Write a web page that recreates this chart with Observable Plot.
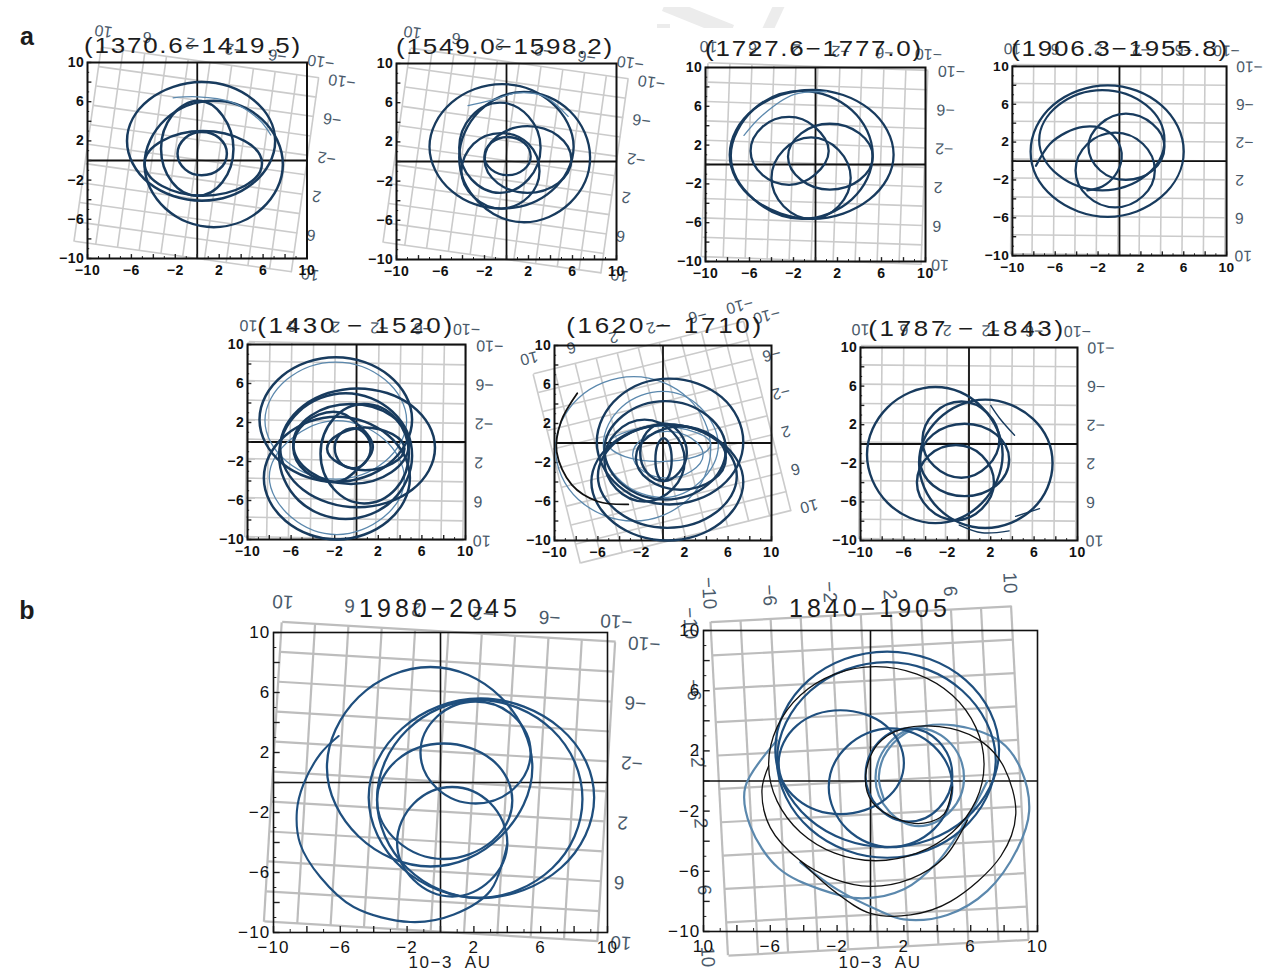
<!DOCTYPE html>
<html><head><meta charset="utf-8">
<script src="https://cdn.jsdelivr.net/npm/d3@7"></script>
<script src="https://cdn.jsdelivr.net/npm/@observablehq/plot@0.6"></script>
<style>
html,body{margin:0;background:#fff;}
#page{position:relative;width:1275px;height:973px;overflow:hidden;background:#fff;font-family:"Liberation Sans",Arial,sans-serif;}
#page>div.p{position:absolute;}
#page svg{background:transparent;overflow:visible;display:block;}
.t{position:absolute;transform:translate(-50%,-50%);white-space:pre;color:#1c1c1c;}
#wm{position:absolute;left:640px;top:7px;width:180px;height:21px;overflow:hidden;}
#wm div{position:absolute;background:#ececec;}
</style></head><body><div id="page"><div id="wm">
<div style="left:22px;top:4px;width:72px;height:14px;transform:rotate(22deg)"></div>
<div style="left:17px;top:17px;width:13px;height:4px"></div>
<div style="left:112px;top:6px;width:42px;height:11px;transform:rotate(-65deg)"></div>
</div></div>
<script>
const labelTicks=[-10,-6,-2,2,6,10];
const majorTicks=[-10,-8,-6,-4,-2,0,2,4,6,8,10];
const minorTicks=[-9,-7,-5,-3,-1,1,3,5,7,9];

const p1Dark=[
[7.1,2,5.1,6.2,.4,8,-4.4,6.2,-6.4,2,-4.4,-2.3,.4,-4.1,5.1,-2.3],
[7.8,-.4,5.9,4.2,1.5,6.1,-2.9,4.2,-4.8,-.4,-2.9,-4.9,1.5,-6.8,5.9,-4.9],
[3.3,1.2,2.3,4.6,.1,6.1,-2.3,4.6,-3.3,1.2,-2.3,-2.2,0,-3.6,2.3,-2.2],
[5.9,-.3,4.3,2,.5,3,-3.2,2,-4.8,-.3,-3.2,-2.6,.5,-3.6,4.3,-2.6],
[2.7,.7,2,2.3,.4,2.9,-1.1,2.3,-1.8,.7,-1.1,-.9,.4,-1.5,2,-.9]];
const p1Tail=[[-2.2,6.4,0,6.5,3,6,5.6,4.2,6.7,2.6]];
const p2Dark=[
[6.1,1.5,4.1,6,-.4,7.9,-5,6,-7,1.5,-5,-3,-.4,-4.8,4.1,-3],
[7.6,.4,5.8,5.1,1.6,7.1,-2.5,5.1,-4.3,.4,-2.5,-4.2,1.6,-6.2,5.8,-4.2],
[3.1,1.4,2,4.6,-.6,6,-3.2,4.6,-4.3,1.4,-3.2,-1.8,-.6,-3.2,2,-1.8],
[5.9,.2,4.7,2.6,1.9,3.6,-.8,2.6,-2,.2,-.8,-2.2,1.9,-3.2,4.7,-2.2],
[3,-1,2,1.8,-.5,2.9,-3,1.8,-4.1,-1,-3,-3.6,-.5,-4.8,2,-3.6],
[2.2,.5,1.6,1.9,.1,2.5,-1.4,1.9,-2,.5,-1.4,-.8,.1,-1.4,1.6,-.8]];
const p2Tail=[[-3.5,5.7,-1.5,6.2,1,7,3.5,6.6,5.6,4.6]];
const p3Dark=[
[7.1,1,4.9,5.7,-.3,7.7,-5.6,5.7,-7.8,1,-5.6,-3.6,-.3,-5.6,4.9,-3.6],
[5.2,1,3.3,5.6,-1.2,7.6,-5.6,5.7,-7.7,.9,-5.6,-3.6,-1.2,-5.6,3.3,-3.6],
[1.2,1.4,-.1,3.9,-2.4,4.9,-4.8,3.9,-5.9,1.4,-4.8,-1.1,-2.4,-2.1,-.1,-1.1],
[5.2,.8,4,3.2,1.3,4.2,-1.3,3.2,-2.5,.8,-1.3,-1.6,1.3,-2.6,4,-1.6],
[3.2,-1.4,2.1,1.5,-.4,2.8,-2.9,1.5,-4,-1.4,-2.9,-4.3,-.4,-5.6,2.1,-4.3]];
const p3Tail=[[-6.5,3,-4.9,5,-2,7.2,1,7.5]];
const p4Dark=[
[6,1,3.9,5.9,-1.1,8,-6.2,5.9,-8.3,1,-6.2,-3.8,-1.1,-5.9,3.9,-3.8],
[4.2,2.2,2.5,5.9,-1.6,7.5,-5.7,5.9,-7.5,2.2,-5.7,-1.5,-1.6,-3.1,2.5,-1.5],
[3.3,-1,2.2,1.8,-.4,3,-3,1.8,-4.1,-1,-3,-3.7,-.4,-4.9,2.2,-3.7],
[4.2,1.5,3.1,3.9,.6,5,-1.8,3.9,-2.9,1.5,-1.8,-1,.6,-2,3.1,-1]];
const p4Tail=[[-7.8,-.5,-6.5,1.8,-5,3,-3.4,3.6,-1.8,3.5,-.6,2.7,.1,1.4,.2,.2,-.4,-1.5,-1.6,-2.7,-3,-3.1]];
const p5Dark=[
[5.1,2.3,3,6.8,-1.9,8.7,-6.8,6.8,-8.9,2.3,-6.8,-2.2,-1.9,-4.1,3,-2.2],
[4.9,-3.7,2.9,.7,-1.8,2.6,-6.5,.7,-8.5,-3.7,-6.5,-8.1,-1.8,-10,2.9,-8.1],
[7.2,-.6,5.1,3.7,.1,5.5,-4.9,3.7,-7,-.6,-4.9,-4.9,.1,-6.7,5.1,-4.9],
[5.1,-1.4,3.3,3.1,-1,5,-5.3,3.1,-7.1,-1.4,-5.3,-6,-1,-7.9,3.3,-6],
[4.8,-.2,3.2,2.7,-.5,3.9,-4.2,2.7,-5.8,-.2,-4.2,-3.1,-.5,-4.3,3.2,-3.1],
[1.5,-.5,-.1,2,-2.1,3.1,-4.7,2,-5.8,-.5,-4.7,-3,-2.1,-4.1,-.1,-3],
[4.8,-1.2,3.6,2.4,.7,3.9,-2.1,2.4,-3.3,-1.2,-2.1,-4.8,.7,-6.3,3.6,-4.8],
[4.4,-.7,3.3,.8,.8,1.5,-1.6,.8,-2.7,-.7,-1.6,-2.2,.8,-2.9,3.3,-2.2],
[1.3,-.6,.8,.8,-.3,1.4,-1.5,.8,-2,-.6,-1.5,-2.1,-.3,-2.7,.8,-2.1]];
const p5Light=[
[4.6,2.2,2.6,6.4,-1.9,8.2,-6.4,6.4,-8.4,2.2,-6.4,-2,-1.9,-3.8,2.6,-2],
[4.4,-3.8,2.5,.3,-1.8,2.2,-6,.3,-8,-3.6,-6,-7.7,-1.8,-9.5,2.5,-7.7]];
const p6Dark=[
[7.4,.1,5.4,4.7,.6,6.6,-4.1,4.7,-6.1,.1,-4.1,-4.4,.6,-6.3,5.4,-4.4],
[7.4,-4,5.3,.1,.4,1.9,-4.5,.1,-6.6,-4,-4.5,-8.2,.4,-10,5.3,-8.2],
[6.8,-3.4,4.9,.3,.4,1.9,-4.1,.3,-6,-3.4,-4.1,-7.1,.4,-8.7,4.9,-7.1],
[5.8,-.7,4.1,2.8,.2,4.3,-3.7,2.8,-5.4,-.7,-3.7,-4.3,.2,-5.8,4.1,-4.3],
[5.8,-1.5,4.6,.7,1.6,1.7,-1.3,.7,-2.5,-1.5,-1.3,-3.8,1.6,-4.8,4.6,-3.8],
[2,-1.8,.9,1.1,-1.7,2.4,-4.3,1.1,-5.4,-1.8,-4.3,-4.7,-1.7,-6,.9,-4.7],
[.8,-1.7,.6,-.2,.05,.5,-.5,-.2,-.7,-1.7,-.5,-3.2,.05,-3.9,.6,-3.2],
[2.2,-1,1.5,1.1,.05,2,-1.5,1.1,-2.1,-1,-1.5,-3,.05,-3.9,1.5,-3]];
const p6Light=[
[4.4,-.6,2.3,4.6,-2.7,6.8,-7.8,4.6,-9.9,-.6,-7.8,-5.8,-2.7,-8,2.3,-5.8],
[5.1,-.2,3.4,3.7,0,5.3,-3.8,3.7,-5.5,-.2,-3.8,-4,0,-5.6,3.4,-4],
[4.4,-.1,3,1.1,-.3,1.7,-3.5,1.1,-5,-.1,-3.5,-1.4,-.3,-1.9,3,-1.4],
[3.7,-1.2,2.6,.5,.4,1.2,-1.8,.5,-2.8,-1.2,-1.8,-2.9,.4,-3.6,2.6,-2.9]];
const p6Tail=[[-7.9,5.1,-9.4,2.2,-9.8,-.9,-8.4,-4.3,-6,-6,-3.2,-6.3]];
const p7Dark=[
[3.1,-1.1,1.2,3.8,-3.1,5.9,-7.5,3.8,-9.4,-1.1,-7.5,-6.1,-3.1,-8.2,1.2,-6.1],
[7.7,-2,5.9,2.6,1.5,4.6,-2.8,2.6,-4.6,-2,-2.8,-6.7,1.5,-8.7,5.9,-6.7],
[3.7,-1.6,2.5,1,-.4,2.1,-3.3,1,-4.5,-1.6,-3.3,-4.3,-.4,-5.4,2.5,-4.3],
[2.3,-4,1.2,-1.2,-1.2,-.1,-3.7,-1.2,-4.8,-4,-3.7,-6.7,-1.2,-7.9,1.2,-6.7],
[2.8,.4,1.7,3.2,-.7,4.4,-3.2,3.2,-4.3,.4,-3.2,-2.3,-.7,-3.5,1.7,-2.3]];
const p7Tail=[[2,4,2.8,2.7,4.2,.9],[-.9,-8.4,1.2,-9.2,3.7,-9],[4.3,-7.5,6.5,-6.7]];
const p8Dark=[
[9.2,-1,7.2,3.6,2.4,5.6,-2.3,3.6,-4.3,-1,-2.3,-5.7,2.4,-7.7,7.2,-5.7],
[8.5,-1.1,6.7,3.5,2.3,5.5,-2,3.5,-3.8,-1.1,-2,-5.7,2.3,-7.7,6.7,-5.7],
[5.5,1,3.6,5.7,-.6,7.7,-4.9,5.7,-6.8,1,-4.9,-3.6,-.6,-5.6,3.6,-3.6],
[5.4,2,4.4,4.4,2.1,5.4,-.2,4.4,-1.2,2,-.2,-.4,2.1,-1.4,4.4,-.4],
[4.3,-1.2,3.1,1.5,.2,2.6,-2.6,1.5,-3.8,-1.2,-2.6,-3.9,.2,-5.1,3.1,-3.9],
[4,-4,3,-1.4,.7,-.3,-1.6,-1.4,-2.6,-4,-1.6,-6.5,.7,-7.6,3,-6.5]];
const p8Tail=[[-6.1,3.1,-7.2,1.9,-8.2,-.1,-8.6,-1.9,-8.4,-4.1,-7.2,-6.3,-5.2,-8.3,-1.8,-9.3,.8,-8.8,3,-7.2,4,-4.1]];
const p9Black=[
[6.8,1.1,4.9,5.7,.3,7.6,-4.2,5.7,-6.1,1.1,-4.2,-3.4,.3,-5.3,4.9,-3.4]];
const p9BlackOpen=[
[-6.1,1,-6.5,-.6,-6,-3.1,-4.2,-5.3,-2.2,-6.5,0,-7,2.4,-6.5,4.4,-5.1,5.8,-2.6],
[-4.2,-5.3,-2.2,-7.3,0,-8.8,2.4,-8.9,4.8,-8,7.8,-5,8.7,-2.2,8,.9,6.8,2.5,4.8,3.5,2,3.5,.4,2.4,-.3,.3,.1,-1.4,1.8,-2.6,3.2,-2.8,4.4,-2.2,4.9,-.4]];
const p9Blue=[
[7.7,2.1,5.7,6.7,1,8.6,-3.7,6.7,-5.7,2.1,-3.7,-2.5,1,-4.4,5.7,-2.5],
[7.5,1.4,5.5,6,1,7.9,-3.6,6,-5.6,1.4,-3.6,-3.2,1,-5.1,5.5,-3.2],
[2,1.2,.9,3.7,-1.8,4.7,-4.4,3.7,-5.5,1.2,-4.4,-1.2,-1.8,-2.2,.9,-1.2],
[4.9,-.4,3.8,2.3,1.2,3.5,-1.4,2.3,-2.5,-.4,-1.4,-3.2,1.2,-4.4,3.8,-3.2],
[4.9,.4,4.1,2.6,2.3,3.5,.5,2.6,-.3,.4,.5,-1.8,2.3,-2.7,4.1,-1.8]];
const p9Pale=[
[5.6,.2,4.8,2.5,2.9,3.5,1.1,2.5,.3,.2,1.1,-2,2.9,-3,4.8,-2]];
const p9PaleOpen=[
[-5.6,2.7,-7.5,-.4,-7.2,-3,-5.5,-5.8,-3,-7.2,-.5,-7.8,2,-7.2,4,-5.4,5.8,-2.5,7,0],
[-4.2,-5.4,-2,-7.2,.5,-8.6,2,-9.2,4.6,-8.9,7,-7.3,8.8,-4.5,9.5,-2,9,.8,7.8,2.6,5,3.7,2.5,3.4,1,2,.5,.3,.8,-1.2]];

const NAVY="#183b5e", BLUE="#1f4f7e", PALE="#5b88ad", BLACK="#111";
const wide="translate(-50%,-50%) scaleX(1.18)";
const small={fontSize:"22px",letterSpacing:"1.5px",transform:wide}, mid={fontSize:"22px",letterSpacing:"2.3px",transform:wide}, large={fontSize:"25px",letterSpacing:"4px"};
const panels=[
{f:[86.5,306,62,258],t:"(1370.6−1419.5)",tx:193,ty:46,ts:small,rot:188,layers:[[p1Dark,1,NAVY,2.5],[p1Tail,0,PALE,1.3]]},
{f:[396,616,63,259],t:"(1549.0−1598.2)",tx:505,ty:47,ts:small,rot:188,layers:[[p2Dark,1,NAVY,2.3],[p2Tail,0,PALE,1.3]]},
{f:[705,925,66.5,260.5],t:"(1727.6−1777.0)",tx:814,ty:49,ts:small,rot:182,layers:[[p3Dark,1,NAVY,2.3],[p3Tail,0,PALE,1.3]]},
{f:[1013,1232,66.5,260],t:"(1906.3−1955.8)",tx:1120,ty:49,ts:small,rot:180.5,layers:[[p4Dark,1,NAVY,2.3],[p4Tail,0,NAVY,2.3]]},
{f:[247,465,344,539],t:"(1430 − 1520)",tx:356,ty:326,ts:mid,rot:181,layers:[[p5Light,1,PALE,1.3],[p5Dark,1,NAVY,2.5]]},
{f:[554,771,345,540],t:"(1620 − 1710)",tx:665,ty:326,ts:mid,rot:166,layers:[[p6Light,1,PALE,1.3],[p6Dark,1,NAVY,2.4],[p6Tail,0,BLACK,1.8]]},
{f:[860,1077,347,540],t:"(1787 − 1843)",tx:967,ty:329,ts:mid,rot:180.5,layers:[[p7Dark,1,NAVY,2.4],[p7Tail,0,NAVY,1.4]]},
{f:[273,607,632,932],t:"1980−2045",tx:440,ty:608,ts:large,rot:183.4,big:true,layers:[[p8Dark,1,BLUE,2.3],[p8Tail,0,BLUE,2.1]]},
{f:[703,1037,630,931],t:"1840−1905",tx:870,ty:608,ts:large,rot:87,big:true,firstTen:true,layers:[[p9PaleOpen,0,PALE,2.2],[p9Pale,1,PALE,2.2],[p9Blue,1,BLUE,2.2],[p9BlackOpen,0,BLACK,1.3],[p9Black,1,BLACK,1.3]]}
];
const page=document.getElementById("page");
const M=50;
const pairs=a=>{const o=[];for(let i=0;i<a.length;i+=2)o.push([a[i],a[i+1]]);return o;};
function put(node,left,top,extra){const d=document.createElement("div");d.className="p";d.style.left=left+"px";d.style.top=top+"px";if(extra)Object.assign(d.style,extra);d.appendChild(node);page.appendChild(d);}
function text(s,x,y,css){const d=document.createElement("div");d.className="t";d.textContent=s;d.style.left=x+"px";d.style.top=y+"px";Object.assign(d.style,css);page.appendChild(d);}
const base=p=>({width:p.f[1]-p.f[0]+2*M,height:p.f[3]-p.f[2]+2*M,marginLeft:M,marginRight:M,marginTop:M,marginBottom:M,
  x:{domain:[-10,10],axis:null},y:{domain:[-10,10],axis:null}});
for(const p of panels){
  const ghostColor=p.big?"#bdbdbd":"#cbcbcb", sw=p.big?2.2:1.6;
  const fs=p.big?19:16;
  const ghost=Plot.plot({...base(p),style:{background:"transparent",fontFamily:"Liberation Sans"},marks:[
    Plot.ruleX(majorTicks,{stroke:ghostColor,strokeWidth:sw}),
    Plot.ruleY(majorTicks,{stroke:ghostColor,strokeWidth:sw}),
    Plot.axisX({ticks:labelTicks,tickSize:0,tickPadding:p.big?13:10,fontSize:fs,fill:"#4a5a6a",anchor:"bottom",label:null}),
    Plot.axisY({ticks:labelTicks,tickSize:0,tickPadding:p.big?13:10,fontSize:fs,fill:"#4a5a6a",anchor:"left",label:null})
  ]});
  put(ghost,p.f[0]-M,p.f[2]-M,{transform:`rotate(${p.rot}deg)`,transformOrigin:"50% 50%"});
}
for(const p of panels){
  const fs=p.big?17:14;
  const fmtX=d=>(p.firstTen&&d===-10)?"10":String(d).replace("-","−");
  const fmtY=d=>String(d).replace("-","−");
  const marks=[
    Plot.ruleY([0],{stroke:"#111",strokeWidth:p.big?1.6:1.8}),
    Plot.ruleX([0],{stroke:"#111",strokeWidth:p.big?1.6:1.8}),
    Plot.ruleX(majorTicks,{y1:-10,y2:-9.6,stroke:"#222",strokeWidth:1.4}),
    Plot.ruleX(minorTicks,{y1:-10,y2:-9.8,stroke:"#222",strokeWidth:1}),
    Plot.ruleY(majorTicks,{x1:-10,x2:-9.6,stroke:"#222",strokeWidth:1.4}),
    Plot.ruleY(minorTicks,{x1:-10,x2:-9.8,stroke:"#222",strokeWidth:1}),
    Plot.frame({stroke:"#111",strokeWidth:p.big?1.6:2}),
    Plot.axisX({ticks:labelTicks,tickSize:0,tickPadding:p.big?8:7,tickFormat:fmtX,fontSize:fs,fontWeight:p.big?400:700,fill:"#111",anchor:"bottom",label:null}),
    Plot.axisY({ticks:labelTicks,tickSize:0,tickPadding:3,tickFormat:fmtY,fontSize:fs,fontWeight:p.big?400:700,fill:"#111",anchor:"left",label:null})
  ];
  for(const [loops,closed,stroke,w] of p.layers){
    for(const loop of loops){
      const c=closed?{curve:"cardinal-closed",tension:-0.11}:{curve:"catmull-rom"};
      marks.push(Plot.line(pairs(loop),{x:d=>d[0],y:d=>d[1],...c,stroke,strokeWidth:w}));
    }
  }
  const main=Plot.plot({...base(p),style:{background:"transparent",fontFamily:"Liberation Sans",letterSpacing:p.big?"1.2px":"0.6px"},marks});
  put(main,p.f[0]-M,p.f[2]-M);
  text(p.t,p.tx,p.ty,p.ts);
}
text("a",27,36,{fontSize:"25px",fontWeight:"700"});
text("b",27,610,{fontSize:"25px",fontWeight:"700"});
text("10−3  AU",450,963,{fontSize:"17px",letterSpacing:"1.6px"});
text("10−3  AU",880,963,{fontSize:"17px",letterSpacing:"1.6px"});
</script></body></html>
